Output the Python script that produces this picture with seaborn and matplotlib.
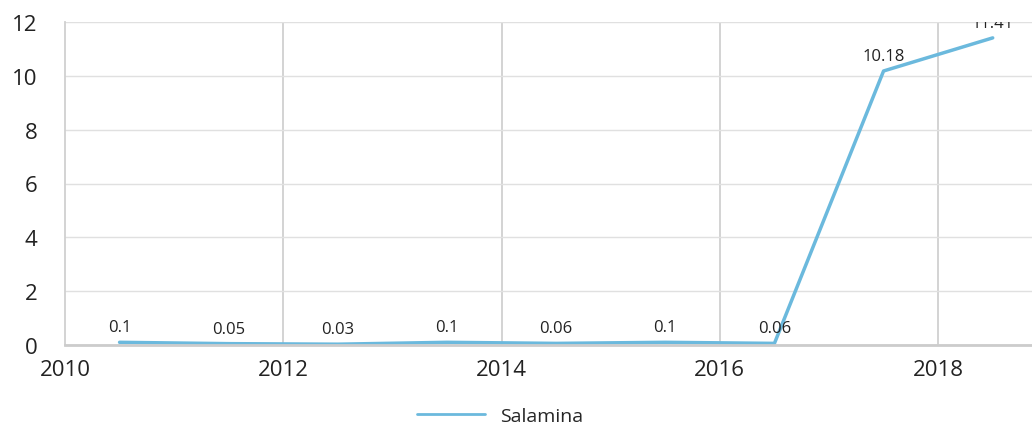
import seaborn as sns
import matplotlib.pyplot as plt
import pandas as pd

years = [2010.5, 2011.5, 2012.5, 2013.5, 2014.5, 2015.5, 2016.5, 2017.5, 2018.5]
values = [0.1, 0.05, 0.03, 0.1, 0.06, 0.1, 0.06, 10.18, 11.41]
labels = ["0.1", "0.05", "0.03", "0.1", "0.06", "0.1", "0.06", "10.18", "11.41"]

df = pd.DataFrame({"year": years, "value": values, "series": "Salamina"})

sns.set_style("white")
plt.rcParams["font.family"] = ["Open Sans", "DejaVu Sans"]

fig = plt.figure(figsize=(10.32, 4.27), dpi=100)
ax = fig.add_axes([65 / 1032, 81 / 427, 967 / 1032, 323 / 427])

sns.lineplot(data=df, x="year", y="value", hue="series",
             palette=["#6bb9dd"], linewidth=2.5, ax=ax)

for x, y, t in zip(years, values, labels):
    ax.annotate(t, (x, y), xytext=(0, 5), textcoords="offset points",
                ha="center", va="bottom", fontsize=12, color="#222222",
                annotation_clip=False, clip_on=True)

ax.set_xlim(2010, 2018.86)
ax.set_ylim(0, 12)
ax.set_xticks([2010, 2012, 2014, 2016, 2018])
ax.set_yticks(range(0, 13, 2))
ax.set_xlabel("")
ax.set_ylabel("")
ax.tick_params(axis="both", labelsize=16, colors="#222222", length=0)
ax.tick_params(axis="x", pad=10)
ax.tick_params(axis="y", pad=20)

ax.grid(axis="y", color="#e0e0e0", linewidth=1)
for xv in [2012, 2014, 2016, 2018]:
    ax.axvline(xv, color="#d0d0d0", linewidth=1.3, zorder=0)
ax.set_axisbelow(True)

for s in ["top", "right"]:
    ax.spines[s].set_visible(False)
ax.spines["left"].set_color("#d0d0d0")
ax.spines["left"].set_linewidth(1.3)
ax.spines["bottom"].set_color("#cccccc")
ax.spines["bottom"].set_linewidth(2)

leg = ax.legend(loc="center", bbox_to_anchor=(435 / 967, -71 / 323),
                frameon=False, fontsize=14, handlelength=3.5)
for line in leg.get_lines():
    line.set_linewidth(2)

fig.savefig("out.png", dpi=100)
